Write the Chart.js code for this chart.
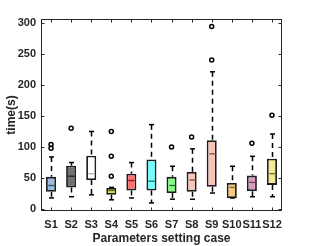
<!DOCTYPE html>
<html>
<head>
<meta charset="utf-8">
<script src="https://cdn.jsdelivr.net/npm/chart.js@4.4.0/dist/chart.umd.min.js"></script>
<style>html,body{margin:0;padding:0;background:#fff}</style>
</head>
<body>
<canvas id="chart" width="311" height="246"></canvas>
<script>
var c = document.getElementById("chart");

// box plot statistics per case
var labels = ['S1','S2','S3','S4','S5','S6','S7','S8','S9','S10','S11','S12'];
var whiskLo = [18, 20, 23, 15, 18, 10, 16, 16, 26, 18, 20, 20];
var q1 =      [28, 35, 47, 23, 30, 30, 26, 28, 36, 18, 29, 39];
var med =     [38, 53, 57, 30, 46, 45, 38, 47, 89, 35, 43, 57];
var q3 =      [52, 70, 86, 34, 57, 80, 52, 60, 111, 42, 54, 81];
var whiskHi = [84, 75, 125, 35, 75, 136, 69, 97, 221, 69, 85, 121];
var outliers = [[104, 98], [130], [], [125, 85, 53], [], [], [100], [116], [294, 240], [], [106], [151]];
var yTicks = [0, 50, 100, 150, 200, 250, 300];

var fills = ['#9dbddf','#707070','#ffffff','#e6e03c','#ff6e6e','#70ffff','#80ff80','#f8c6b8','#f7c4b8','#f7c97e','#d99cbc','#f0ea92'];
var medColors = ['#2d4b72','#1e1e1e','#b4b4b4','#6b6614','#7a2020','#1f6f6f','#2a6a2a','#7a5548','#8a4b40','#8a6a30','#6c3a56','#706a30'];

var outlierPts = [];
for (var i = 0; i < labels.length; i++) {
  for (var j = 0; j < outliers[i].length; j++) {
    outlierPts.push({x: labels[i], y: outliers[i][j]});
  }
}

var fontFam = "'Liberation Sans', Arial, sans-serif";
var ink = '#262626';

function seg(ctx, x1, y1, x2, y2) {
  ctx.beginPath();
  ctx.moveTo(x1, y1);
  ctx.lineTo(x2, y2);
  ctx.stroke();
}

var boxExtras = {
  id: 'boxExtras',
  afterDatasetsDraw: function(chart) {
    var ctx = chart.ctx, x = chart.scales.x, y = chart.scales.y;
    var bars = chart.getDatasetMeta(0).data;
    ctx.save();
    for (var i = 0; i < labels.length; i++) {
      var cx = Math.round(x.getPixelForValue(i)) + 0.5;
      var hw = bars[i].width / 2;
      ctx.strokeStyle = '#000';
      ctx.lineWidth = 1.5;
      ctx.setLineDash([5, 4]);
      seg(ctx, cx, y.getPixelForValue(whiskHi[i]), cx, y.getPixelForValue(q3[i]));
      seg(ctx, cx, y.getPixelForValue(q1[i]), cx, y.getPixelForValue(whiskLo[i]));
      ctx.setLineDash([]);
      seg(ctx, cx - 2.5, y.getPixelForValue(whiskHi[i]), cx + 2.5, y.getPixelForValue(whiskHi[i]));
      seg(ctx, cx - 2.5, y.getPixelForValue(whiskLo[i]), cx + 2.5, y.getPixelForValue(whiskLo[i]));
      ctx.strokeStyle = medColors[i];
      ctx.lineWidth = 1.3;
      var ym = y.getPixelForValue(med[i]);
      seg(ctx, cx - hw + 1.8, ym, cx + hw - 1.8, ym);
    }
    // axes frame with inward ticks
    var a = chart.chartArea;
    var L = Math.round(a.left) + 0.5, R = Math.round(a.right) - 0.5;
    var T = Math.round(a.top) + 0.5, B = Math.round(a.bottom) - 0.5;
    ctx.strokeStyle = ink;
    ctx.lineWidth = 1;
    ctx.strokeRect(L, T, R - L, B - T);
    var tl = 3;
    for (var k = 0; k < labels.length; k++) {
      var tx = Math.round(x.getPixelForValue(k)) + 0.5;
      seg(ctx, tx, B, tx, B - tl);
      seg(ctx, tx, T, tx, T + tl);
    }
    for (var m = 0; m < yTicks.length; m++) {
      var ty = Math.round(y.getPixelForValue(yTicks[m])) + 0.5;
      seg(ctx, L, ty, L + tl, ty);
      seg(ctx, R, ty, R - tl, ty);
    }
    ctx.restore();
  }
};

var data = {
  labels: labels,
  datasets: [{
    type: 'bar',
    data: labels.map(function(l, i) { return [q1[i], q3[i]]; }),
    backgroundColor: fills,
    borderColor: '#1e1e1e',
    borderWidth: 1.8,
    borderSkipped: false,
    barPercentage: 0.5,
    categoryPercentage: 1.0
  }, {
    type: 'line',
    data: outlierPts,
    showLine: false,
    pointStyle: 'circle',
    pointRadius: 2,
    pointBorderWidth: 1.5,
    pointBorderColor: '#000',
    pointBackgroundColor: 'rgba(0,0,0,0)'
  }]
};

var options = {
  responsive: false,
  animation: false,
  layout: { padding: { top: 19, right: 29, bottom: 0, left: 0 } },
  plugins: { legend: { display: false }, tooltip: { enabled: false } },
  scales: {
    x: {
      grid: { display: false, drawTicks: false },
      border: { display: false },
      ticks: { color: ink, padding: 7, autoSkip: false, maxRotation: 0, font: { family: fontFam, size: 11, weight: 'bold' } },
      title: { display: true, text: 'Parameters setting case', color: ink, padding: { top: 0, bottom: 0 }, font: { family: fontFam, size: 12, weight: 'bold', lineHeight: 1.2 } },
      afterFit: function(s) { s.height = 35; }
    },
    y: {
      min: -3,
      max: 306,
      grid: { display: false, drawTicks: false },
      border: { display: false },
      afterBuildTicks: function(s) { s.ticks = yTicks.map(function(v) { return { value: v }; }); },
      ticks: { color: ink, padding: 5, font: { family: fontFam, size: 11, weight: 'bold' } },
      title: { display: true, text: 'time(s)', color: ink, padding: { top: 4, bottom: 0 }, font: { family: fontFam, size: 12, weight: 'bold', lineHeight: 1.2 } },
      afterFit: function(s) { s.width = 41; }
    }
  }
};

var chart = new Chart(c, { type: 'bar', data: data, options: options, plugins: [boxExtras] });
</script>
</body>
</html>
